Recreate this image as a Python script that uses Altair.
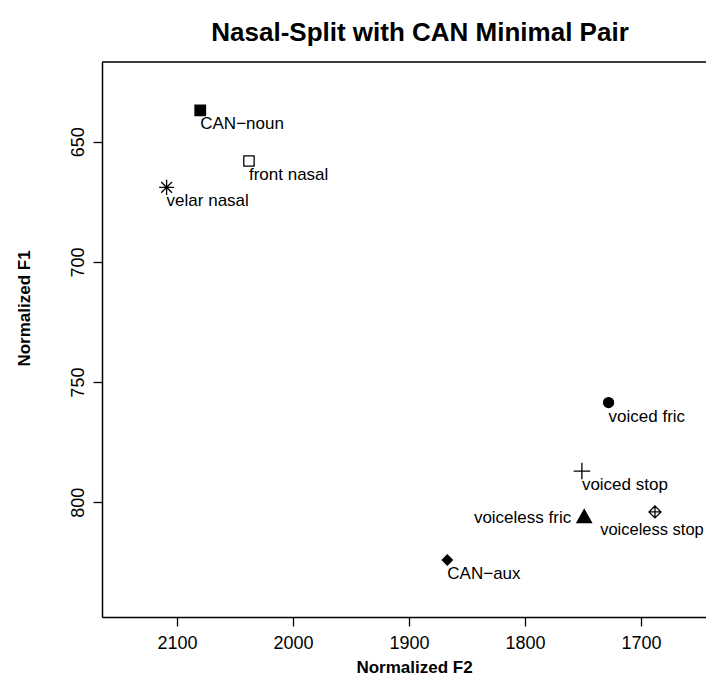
import altair as alt
import pandas as pd

# ---- data ----
labels = ["CAN−noun", "front nasal", "velar nasal", "voiced fric",
          "voiced stop", "voiceless fric", "voiceless stop", "CAN−aux"]
f2 = [2080, 2038, 2109, 1728, 1751, 1749, 1688, 1867]
f1 = [637, 658, 669, 758.5, 787, 806, 804, 824]
x_ticks = [2100, 2000, 1900, 1800, 1700]
y_ticks = [650, 700, 750, 800]

df = pd.DataFrame({"label": labels, "f2": f2, "f1": f1})

FONT = "Liberation Sans"
BOX = 16.0  # px covered by path units [-1, 1]


def sc(path_pts, px):
    """scale a unit path template to px pixels within BOX"""
    k = px / BOX
    return path_pts.format(a=round(k, 3), b=round(-k, 3),
                           c=round(0.72 * k, 3), d=round(-0.72 * k, 3),
                           e=round(0.8 * k, 3))


square = "M{b},{b}H{a}V{a}H{b}Z"
plus = "M{b},0H{a}M0,{b}V{a}"
aster = "M{b},0H{a}M0,{b}V{a}M{d},{d}L{c},{c}M{d},{c}L{c},{d}"
circle = "M{b},0A{a},{a},0,1,1,{a},0A{a},{a},0,1,1,{b},0Z"
tri = "M0,{b}L{a},{e}L{b},{e}Z"
diamond = "M0,{b}L{a},0L0,{a}L{b},0Z"
dplus = "M0,{b}L{a},0L0,{a}L{b},0ZM{b},0H{a}M0,{b}V{a}"

marker = {
    "CAN−noun": (sc(square, 10.5), "black"),
    "front nasal": (sc(square, 10.3), "white"),
    "velar nasal": (sc(aster, 15), "white"),
    "voiced fric": (sc(circle, 10), "black"),
    "voiced stop": (sc(plus, 16.5), "white"),
    "voiceless fric": (sc(tri, 14.5), "black"),
    "voiceless stop": (sc(dplus, 12), "white"),
    "CAN−aux": (sc(diamond, 10), "black"),
}
placement = {
    "CAN−noun": "br", "front nasal": "br", "velar nasal": "br",
    "voiced fric": "br", "voiced stop": "br", "voiceless fric": "l",
    "voiceless stop": "b", "CAN−aux": "br",
}
df["place"] = [placement[l] for l in labels]

W, H = 604, 555

xenc = alt.X("f2:Q",
             scale=alt.Scale(domain=[1644.0, 2164.7], reverse=True, nice=False, zero=False),
             axis=alt.Axis(values=x_ticks, format="d", grid=False, tickSize=9,
                           tickColor="black", tickWidth=1.3, domainColor="black",
                           domainWidth=1.5, labelFont=FONT, labelFontSize=18,
                           labelColor="black", labelPadding=8, labelFlush=False,
                           labelOverlap=False, titleFont=FONT, titleFontSize=17,
                           titleFontWeight="bold", titleColor="black", titleY=55,
                           titleX=312, titleAlign="center", titleBaseline="alphabetic"),
             title="Normalized F2")
yenc = alt.Y("f1:Q",
             scale=alt.Scale(domain=[616.85, 847.7], reverse=True, nice=False, zero=False),
             axis=alt.Axis(values=y_ticks, format="d", grid=False, tickSize=9,
                           tickColor="black", tickWidth=1.3, domainColor="black",
                           domainWidth=1.5, labelFont=FONT, labelFontSize=18,
                           labelColor="black", labelPadding=10, labelAngle=270,
                           labelAlign="center", labelBaseline="alphabetic",
                           labelFlush=False, labelOverlap=False,
                           titleFont=FONT, titleFontSize=17, titleFontWeight="bold",
                           titleColor="black", titleAngle=270, titleX=-78, titleY=246,
                           titleAlign="center", titleBaseline="middle"),
             title="Normalized F1")

base = alt.Chart(df)

points = base.mark_point(opacity=1, strokeOpacity=1, fillOpacity=1, size=BOX * BOX,
                         stroke="black", strokeWidth=1.3).encode(
    x=xenc, y=yenc,
    shape=alt.Shape("label:N", scale=alt.Scale(domain=labels,
                    range=[marker[l][0] for l in labels]), legend=None),
    fill=alt.Fill("label:N", scale=alt.Scale(domain=labels,
                  range=[marker[l][1] for l in labels]), legend=None),
)

txt_br = base.transform_filter(alt.datum.place == "br").mark_text(
    align="left", baseline="alphabetic", dx=0, dy=19, font=FONT, fontSize=17,
    color="black").encode(x=xenc, y=yenc, text="label:N")
txt_b = base.transform_filter(alt.datum.place == "b").mark_text(
    align="center", baseline="alphabetic", dx=-3, dy=23, font=FONT, fontSize=16.5,
    color="black").encode(x=xenc, y=yenc, text="label:N")
txt_l = base.transform_filter(alt.datum.place == "l").mark_text(
    align="right", baseline="middle", dx=-13, dy=1, font=FONT, fontSize=17,
    color="black").encode(x=xenc, y=yenc, text="label:N")

top_border = alt.Chart(pd.DataFrame({"k": [0]})).mark_rule(
    color="black", strokeWidth=1.5).encode(
    x=alt.value(0), x2=alt.value(W), y=alt.value(0))

chart = alt.layer(top_border, points, txt_br, txt_b, txt_l).properties(
    width=W, height=H,
    autosize=alt.AutoSizeParams(type="none"),
    padding={"left": 94, "top": 54, "right": 0, "bottom": 60},
    title=alt.TitleParams("Nasal-Split with CAN Minimal Pair", font=FONT,
                          fontSize=26, fontWeight="bold", color="black",
                          anchor="middle", frame="group", dx=16, dy=28, offset=22,
                          baseline="alphabetic"),
).configure_view(strokeWidth=0).configure(background="white")

chart.save("out.html", embed_options={"renderer": "svg", "actions": False})
